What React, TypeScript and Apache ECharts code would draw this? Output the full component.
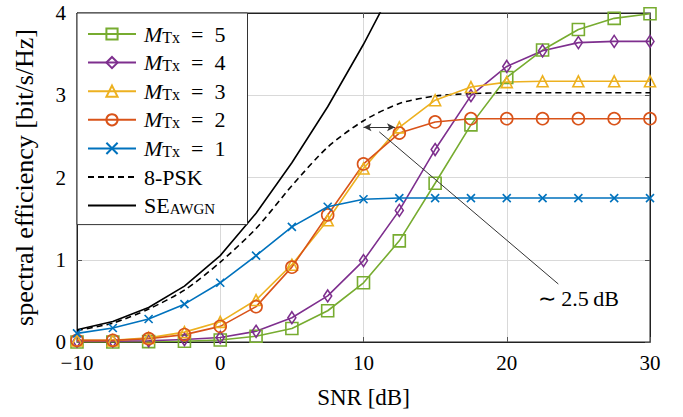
import React, { useEffect, useRef } from 'react';
import * as echarts from 'echarts';

const FONT = '"Liberation Serif", "Times New Roman", serif';

const snr = [-10, -7.5, -5, -2.5, 0, 2.5, 5, 7.5, 10, 12.5, 15, 17.5, 20, 22.5, 25, 27.5, 30];
const mtx5 = [0.0, 0.0, 0.005, 0.01, 0.025, 0.07, 0.165, 0.38, 0.72, 1.23, 1.93, 2.64, 3.215, 3.55, 3.8, 3.935, 3.99];
const mtx4 = [0.01, 0.01, 0.015, 0.03, 0.055, 0.13, 0.295, 0.56, 0.99, 1.6, 2.34, 2.995, 3.35, 3.54, 3.64, 3.655, 3.655];
const mtx3 = [0.02, 0.02, 0.05, 0.12, 0.245, 0.51, 0.94, 1.48, 2.11, 2.61, 2.94, 3.1, 3.16, 3.17, 3.17, 3.17, 3.17];
const mtx2 = [0.02, 0.02, 0.04, 0.09, 0.19, 0.43, 0.91, 1.545, 2.165, 2.54, 2.675, 2.715, 2.715, 2.715, 2.715, 2.715, 2.715];
const mtx1 = [0.105, 0.17, 0.28, 0.46, 0.72, 1.05, 1.4, 1.645, 1.735, 1.75, 1.75, 1.75, 1.75, 1.75, 1.75, 1.75, 1.75];
const psk8 = [0.14, 0.23, 0.4, 0.63, 0.97, 1.38, 1.9, 2.37, 2.69, 2.9, 2.99, 3.02, 3.03, 3.03, 3.03, 3.03, 3.03];
const awgnSnr = [-10, -7.5, -5, -2.5, 0, 2.5, 5, 7.5, 10, 12.5];
const seAwgn = [0.15, 0.25, 0.42, 0.68, 1.05, 1.565, 2.18, 2.86, 3.62, 4.45];

const xTicks = { min: -10, max: 30, interval: 10 };
const yTicks = { min: 0, max: 4, interval: 1 };

// annotation (data coordinates)
const gapArrow = [[10, 2.61], [12.2, 2.61]];
const leader = [[11.1, 2.555], [23.6, 0.705]];
const gapLabelPos = [25.0, 0.53];
const gapLabel = '\u223C 2.5\u2009dB';

const COLORS = {
  m5: '#77AC30',
  m4: '#7E2F8E',
  m3: '#EDB120',
  m2: '#D95319',
  m1: '#0072BD',
};

const legendText: Record<string, string> = {
  M5: '{i|M}{s|Tx}{n|\u2002=\u20025}',
  M4: '{i|M}{s|Tx}{n|\u2002=\u20024}',
  M3: '{i|M}{s|Tx}{n|\u2002=\u20023}',
  M2: '{i|M}{s|Tx}{n|\u2002=\u20022}',
  M1: '{i|M}{s|Tx}{n|\u2002=\u20021}',
  PSK: '{n|8-PSK}',
  SE: '{n|SE}{sc|AWGN}',
};

const zip = (xs: number[], ys: number[]) => xs.map((x, i) => [x, ys[i]]);

const markerSeries = (name: string, ys: number[], color: string, symbol: string, symbolSize: any) => ({
  name,
  type: 'line',
  data: zip(snr, ys),
  symbol,
  symbolSize,
  showSymbol: true,
  lineStyle: { color, width: 1.6 },
  itemStyle: { color: 'rgba(0,0,0,0)', borderColor: color, borderWidth: 1.6 },
  emphasis: { disabled: true },
  z: 3,
});

export default function App() {
  const ref = useRef<HTMLDivElement>(null);
  useEffect(() => {
    if (!ref.current) return;
    const chart = echarts.init(ref.current, null, { renderer: 'svg' });
    const axisLabel = { fontFamily: FONT, fontSize: 21, color: '#000' };
    const option: any = {
      animation: false,
      backgroundColor: '#fff',
      grid: { left: 77, right: 33, top: 13, bottom: 75, show: true, borderColor: '#222', borderWidth: 1, backgroundColor: 'transparent' },
      xAxis: [
        {
          type: 'value',
          ...xTicks,
          name: 'SNR [dB]',
          nameLocation: 'middle',
          nameGap: 44,
          nameTextStyle: { fontFamily: FONT, fontSize: 23, color: '#000' },
          axisLine: { show: true, onZero: false, lineStyle: { color: '#222', width: 1 } },
          axisTick: { show: true, inside: true, length: 5, lineStyle: { color: '#555' } },
          axisLabel: { ...axisLabel, margin: 10, formatter: (v: number) => String(v).replace('-', '\u2212') },
          splitLine: { show: true, lineStyle: { color: '#d9d9d9', width: 1 } },
        },
        {
          type: 'value',
          ...xTicks,
          position: 'top',
          axisLine: { show: true, onZero: false, lineStyle: { color: '#222' } },
          axisTick: { show: true, inside: true, length: 5, lineStyle: { color: '#555' } },
          axisLabel: { show: false },
          splitLine: { show: false },
        },
      ],
      yAxis: [
        {
          type: 'value',
          ...yTicks,
          name: 'spectral efficiency [bit/s/Hz]',
          nameLocation: 'middle',
          nameGap: 40,
          nameTextStyle: { fontFamily: FONT, fontSize: 26, color: '#000' },
          axisLine: { show: true, onZero: false, lineStyle: { color: '#222', width: 1 } },
          axisTick: { show: true, inside: true, length: 5, lineStyle: { color: '#555' } },
          axisLabel: { ...axisLabel, margin: 11 },
          splitLine: { show: true, lineStyle: { color: '#d9d9d9', width: 1 } },
        },
        {
          type: 'value',
          ...yTicks,
          position: 'right',
          axisLine: { show: true, onZero: false, lineStyle: { color: '#222' } },
          axisTick: { show: true, inside: true, length: 5, lineStyle: { color: '#555' } },
          axisLabel: { show: false },
          splitLine: { show: false },
        },
      ],
      legend: {
        orient: 'vertical',
        left: 77,
        top: 13,
        padding: [10, 22, 8, 10],
        itemGap: 6.6,
        itemWidth: 48,
        itemHeight: 14,
        backgroundColor: '#fff',
        borderColor: '#333',
        borderWidth: 1,
        borderRadius: 0,
        z: 10,
        selectedMode: false,
        data: ['M5', 'M4', 'M3', 'M2', 'M1', 'PSK', 'SE'],
        formatter: (name: string) => legendText[name],
        textStyle: {
          fontFamily: FONT,
          fontSize: 22,
          color: '#000',
          padding: [0, 0, 0, 3],
          rich: {
            i: { fontFamily: FONT, fontSize: 22, fontStyle: 'italic', color: '#000', lineHeight: 22 },
            s: { fontFamily: FONT, fontSize: 16, color: '#000', lineHeight: 10, verticalAlign: 'bottom' },
            n: { fontFamily: FONT, fontSize: 22, color: '#000', lineHeight: 22 },
            sc: { fontFamily: FONT, fontSize: 15, color: '#000', lineHeight: 10, verticalAlign: 'bottom' },
          },
        },
      },
      series: [
        markerSeries('M5', mtx5, COLORS.m5, 'rect', 12),
        markerSeries('M4', mtx4, COLORS.m4, 'diamond', [8, 12]),
        markerSeries('M3', mtx3, COLORS.m3, 'triangle', 11),
        markerSeries('M2', mtx2, COLORS.m2, 'circle', 12),
        markerSeries('M1', mtx1, COLORS.m1, 'path://M0,0L10,10M10,0L0,10', 8),
        {
          name: 'PSK',
          type: 'line',
          data: zip(snr, psk8),
          symbol: 'circle',
          symbolSize: 0,
          showSymbol: false,
          smooth: 0.25,
          lineStyle: { color: '#000', width: 1.6, type: [6, 4] },
          itemStyle: { color: 'rgba(0,0,0,0)', borderWidth: 0 },
          emphasis: { disabled: true },
          z: 2,
          markLine: {
            silent: true,
            symbol: ['none', 'none'],
            label: { show: false },
            emphasis: { disabled: true },
            lineStyle: { color: '#333', width: 1, type: 'solid' },
            data: [
              [
                { coord: gapArrow[0], symbol: 'arrow', symbolSize: [6, 8] },
                { coord: gapArrow[1], symbol: 'arrow', symbolSize: [6, 8] },
              ],
              [
                { coord: leader[0], symbol: 'none' },
                { coord: leader[1], symbol: 'none' },
              ],
            ],
          },
          markPoint: {
            silent: true,
            data: [
              {
                coord: gapLabelPos,
                symbol: 'rect',
                symbolSize: 1,
                itemStyle: { color: 'rgba(0,0,0,0)' },
                label: { show: true, position: 'inside', formatter: gapLabel, fontFamily: FONT, fontSize: 22, color: '#000' },
              },
            ],
          },
        },
        {
          name: 'SE',
          type: 'line',
          data: zip(awgnSnr, seAwgn),
          symbol: 'circle',
          symbolSize: 0,
          showSymbol: false,
          lineStyle: { color: '#000', width: 1.6 },
          itemStyle: { color: 'rgba(0,0,0,0)', borderWidth: 0 },
          emphasis: { disabled: true },
          z: 2,
        },
      ],
    };
    chart.setOption(option);
    return () => chart.dispose();
  }, []);
  return <div ref={ref} style={{ position: 'fixed', left: 0, top: 0, width: 683, height: 417 }} />;
}
